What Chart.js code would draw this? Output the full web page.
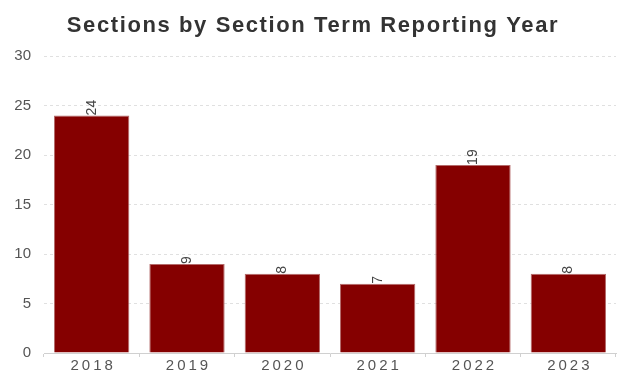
<!DOCTYPE html>
<html>
<head>
<meta charset="utf-8">
<style>
  html, body { margin: 0; padding: 0; background: #fff; }
  #wrap { width: 619px; height: 375px; }
</style>
<script src="https://cdn.jsdelivr.net/npm/chart.js@4/dist/chart.umd.min.js"></script>
</head>
<body>
<div id="wrap"><canvas id="c" width="619" height="375"></canvas></div>
<script>
const chartTitle = 'Sections by Section Term Reporting Year';
const years = ['2018', '2019', '2020', '2021', '2022', '2023'];
const sections = [24, 9, 8, 7, 19, 8];
const yTicks = [0, 5, 10, 15, 20, 25, 30];

const FONT = '"Liberation Sans", Arial, sans-serif';

// Vertical value labels starting at each bar's top; also widens the
// letter spacing used by the category tick labels, drawn afterwards (ticks.z: 1).
const barValueLabels = {
  id: 'barValueLabels',
  beforeUpdate(chart) {
    chart.ctx.letterSpacing = '0px';
  },
  beforeDraw(chart) {
    chart.ctx.letterSpacing = '0px';
  },
  afterDatasetsDraw(chart) {
    const ctx = chart.ctx;
    const meta = chart.getDatasetMeta(0);
    ctx.save();
    ctx.font = '14px ' + FONT;
    ctx.fillStyle = '#444';
    ctx.textAlign = 'left';
    ctx.textBaseline = 'middle';
    meta.data.forEach((bar, i) => {
      ctx.save();
      ctx.translate(bar.x, bar.y);
      ctx.rotate(-Math.PI / 2);
      ctx.fillText(String(sections[i]), 0, 0);
      ctx.restore();
    });
    ctx.restore();
    ctx.letterSpacing = '3px';
  },
  afterDraw(chart) {
    const ctx = chart.ctx;
    ctx.letterSpacing = '0px';
    ctx.save();
    ctx.font = 'bold 22px ' + FONT;
    ctx.letterSpacing = '1.6px';
    ctx.fillStyle = '#333';
    ctx.textAlign = 'left';
    ctx.textBaseline = 'alphabetic';
    const w = ctx.measureText(chartTitle).width;
    ctx.fillText(chartTitle, 313 - w / 2, 32);
    ctx.restore();
    ctx.letterSpacing = '0px';
  }
};

new Chart(document.getElementById('c'), {
  type: 'bar',
  data: {
    labels: years,
    datasets: [{
      data: sections,
      backgroundColor: '#850000',
      borderColor: '#b46a6a',
      borderWidth: 1,
      categoryPercentage: 1.0,
      barPercentage: 0.79
    }]
  },
  options: {
    responsive: false,
    animation: false,
    layout: { padding: { left: 13, right: 3, top: 56, bottom: 0 } },
    plugins: {
      legend: { display: false },
      tooltip: { enabled: false },
      title: { display: false }
    },
    scales: {
      x: {
        grid: { display: true, drawOnChartArea: false, drawTicks: true, tickLength: 4, color: '#d0d0d0' },
        border: { display: true, color: '#d0d0d0' },
        ticks: {
          z: 1,
          color: '#555',
          font: { family: FONT, size: 15 },
          padding: 0,
          labelOffset: 1.5
        }
      },
      y: {
        min: 0,
        max: 30,
        afterBuildTicks(axis) { axis.ticks = yTicks.map(v => ({ value: v })); },
        afterFit(axis) { axis.width = 31; },
        grid: { color: '#e0e0e0', drawTicks: false },
        border: { display: false, dash: [3, 3] },
        ticks: {
          color: '#555',
          font: { family: FONT, size: 15 },
          padding: 13
        }
      }
    }
  },
  plugins: [barValueLabels]
});
</script>
</body>
</html>
